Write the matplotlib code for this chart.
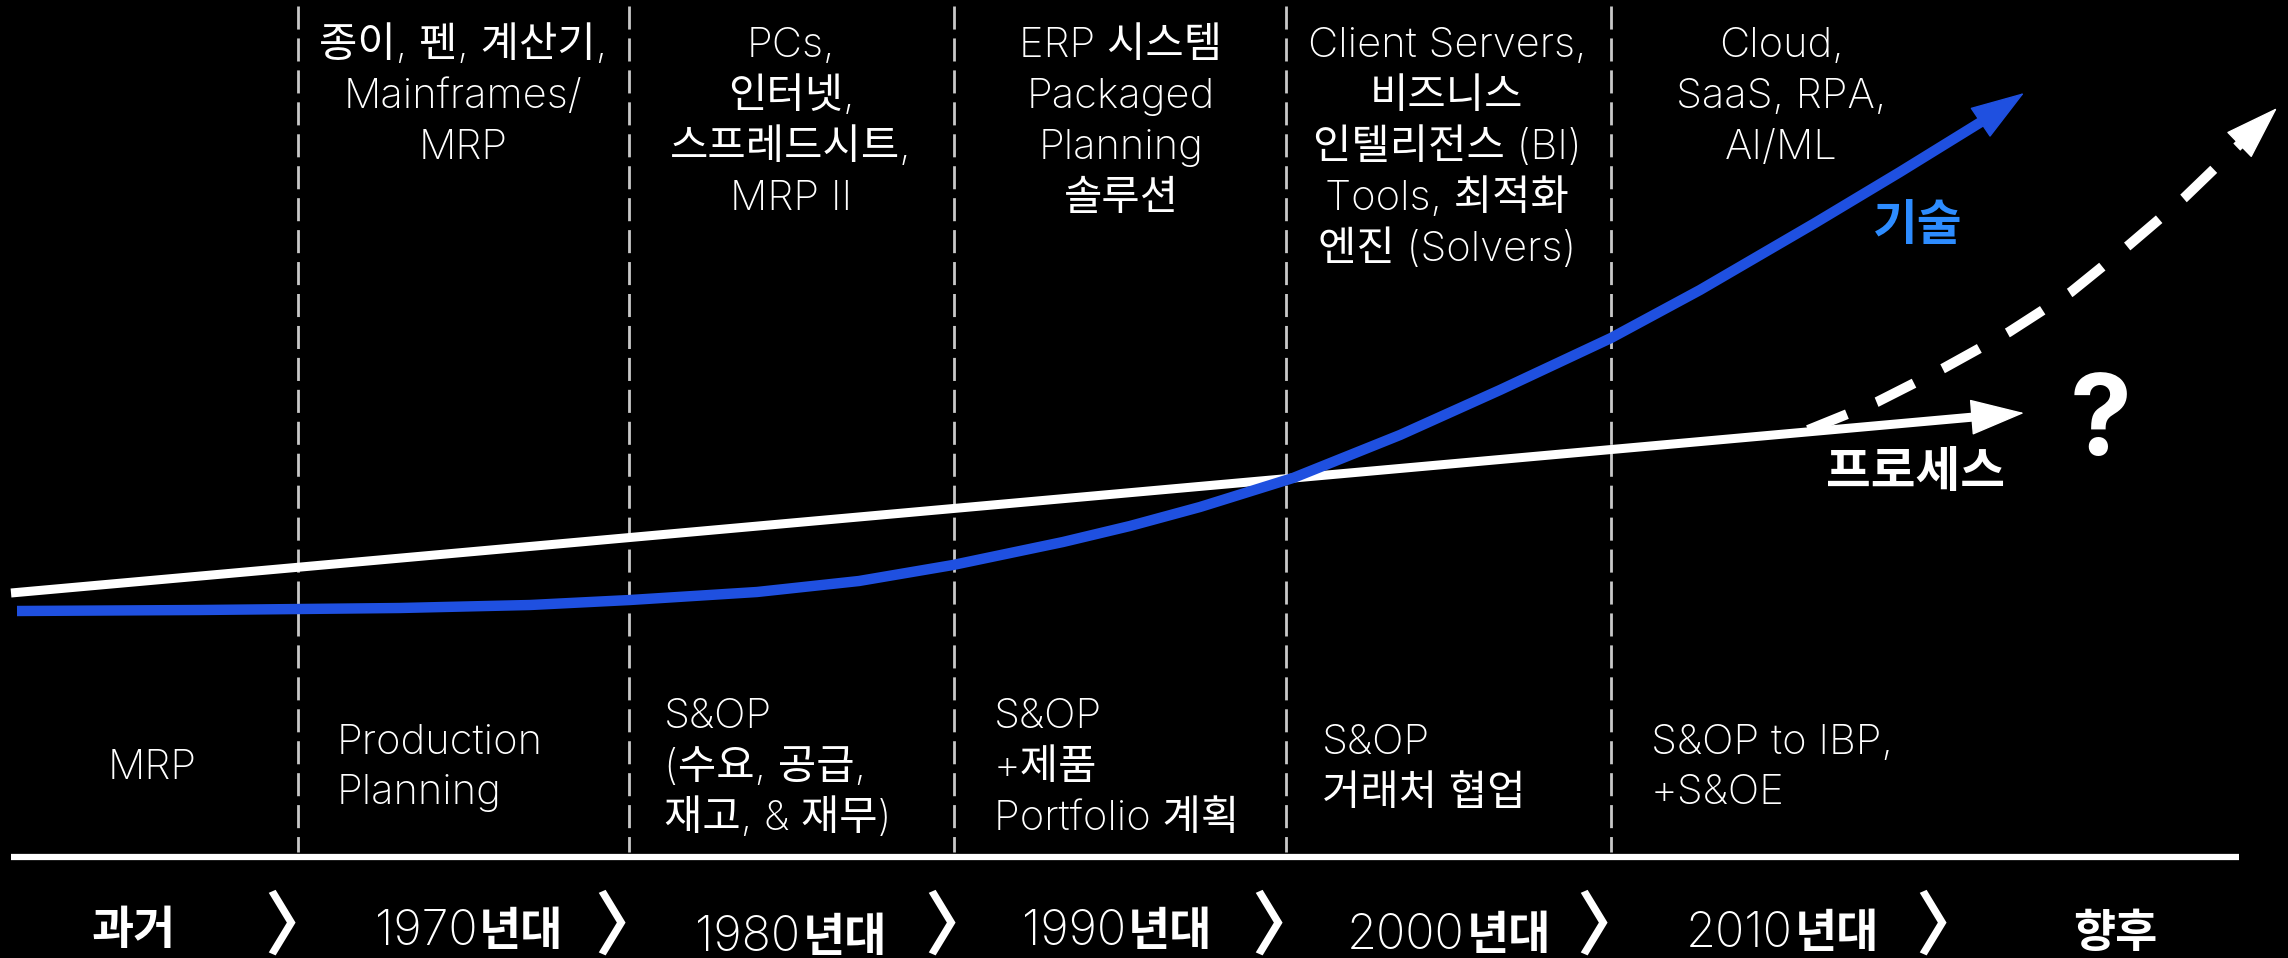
import matplotlib
matplotlib.use("Agg")
import matplotlib.pyplot as plt

# 캔버스 단위 = 픽셀 (2288 x 958)
W, H = 2288, 958

# ====== 데이터 ======
ERA_DIVIDERS = [298, 629, 954, 1286, 1611]

TOP_LABELS = [
    "종이, 펜, 계산기,\nMainframes/\nMRP",
    "PCs,\n인터넷,\n스프레드시트,\nMRP II",
    "ERP 시스템\nPackaged\nPlanning\n솔루션",
    "Client Servers,\n비즈니스\n인텔리전스 (BI)\nTools, 최적화\n엔진 (Solvers)",
    "Cloud,\nSaaS, RPA,\nAI/ML",
]
TOP_X = [463, 791, 1121, 1447, 1781]

BOTTOM_LABELS = [
    "MRP",
    "Production\nPlanning",
    "S&OP\n(수요, 공급,\n재고, & 재무)",
    "S&OP\n+제품\nPortfolio 계획",
    "S&OP\n거래처 협업",
    "S&OP to IBP,\n+S&OE",
]
BOTTOM_X = [152, 337, 664, 994, 1322, 1651]

TIMELINE = ["과거", "1970년대", "1980년대", "1990년대", "2000년대", "2010년대", "향후"]
TIMELINE_X = [134, 468, 790, 1116, 1448, 1781, 2115]
TIMELINE_BASE = [944, 945, 951, 945, 949, 947, 947]
CHEVRON_X = [299, 629, 959, 1286, 1611, 1950]

# 프로세스 (직선)
PROCESS_X = [11, 1974]
PROCESS_Y = [593, 417]
PROCESS_TIP = (2024, 413)

# 기술 (곡선)
TECH_X = [17, 200, 400, 530, 630, 757, 859, 953, 1063, 1130, 1200, 1293,
          1400, 1500, 1611, 1700, 1815, 1900, 1981]
TECH_Y = [611, 610, 608, 605, 600, 592, 581, 565, 542, 526, 507, 478,
          435, 390, 338, 290, 223, 172, 122]
TECH_TIP = (2024, 93)

# 프로세스 향후 (점선)
FUTURE_X = [1808, 1877, 1944, 2009, 2071, 2129, 2184, 2240]
FUTURE_Y = [430, 402, 368, 332, 292, 245, 198, 144]
FUTURE_TIP = (2277, 108)

BLUE = "#1f50e0"
LABEL_BLUE = "#2d8cff"
LIGHT = ["Inter", "Noto Sans CJK KR"]
BOLD = ["Noto Sans CJK KR", "DejaVu Sans"]
LINE_GAP = 51

fig = plt.figure(figsize=(W / 100, H / 100), dpi=100, facecolor="black")
ax = fig.add_axes([0, 0, 1, 1])
ax.set_facecolor("black")
ax.set_xlim(0, W)
ax.set_ylim(H, 0)
ax.axis("off")

# 구분 점선
ax.vlines(ERA_DIVIDERS, 6, 852, colors="#c8c8c8", lw=2,
          linestyles=(0, (8.3, 3.2)))
# 하단 기준선
ax.hlines(857, 11, 2239, colors="white", lw=4.5)

# 곡선들
ax.plot(PROCESS_X, PROCESS_Y, color="white", lw=6.5, solid_capstyle="butt")
ax.plot(TECH_X, TECH_Y, color=BLUE, lw=7.5, solid_capstyle="butt",
        solid_joinstyle="round")
ax.plot(FUTURE_X, FUTURE_Y, color="white", lw=7.2,
        linestyle=(0, (4.2, 3.2)), dash_capstyle="butt")


def head(base, tip, color):
    ax.annotate("", xy=tip, xytext=base,
                arrowprops=dict(arrowstyle="-|>,head_length=36,head_width=12",
                                mutation_scale=1, color=color, lw=1,
                                shrinkA=0, shrinkB=0))


head((PROCESS_X[-1], PROCESS_Y[-1]), PROCESS_TIP, "white")
head((TECH_X[-1], TECH_Y[-1]), TECH_TIP, BLUE)
head((FUTURE_X[-1], FUTURE_Y[-1]), FUTURE_TIP, "white")

# 상단 기술 라벨 (줄 단위로 기준선 맞춤)
for x, s in zip(TOP_X, TOP_LABELS):
    for i, line in enumerate(s.split("\n")):
        ax.text(x, 57 + LINE_GAP * i, line, ha="center", va="baseline",
                color="white", fontsize=30, family=LIGHT, weight="light")

# 하단 프로세스 라벨
for k, (x, s) in enumerate(zip(BOTTOM_X, BOTTOM_LABELS)):
    lines = s.split("\n")
    n = len(lines)
    for i, line in enumerate(lines):
        ax.text(x, 779 + LINE_GAP * (i - (n - 1) / 2), line,
                ha="center" if k == 0 else "left", va="baseline",
                color="white", fontsize=30, family=LIGHT, weight="light")

# 곡선 이름
ax.text(1918, 225, "기술", ha="center", va="center", color=LABEL_BLUE,
        fontsize=35, family=BOLD, weight="bold")
ax.text(1916, 472, "프로세스", ha="center", va="center", color="white",
        fontsize=35, family=BOLD, weight="bold")
ax.text(2101, 455, "?", ha="center", va="baseline", color="white",
        fontsize=80, family=["Inter", "DejaVu Sans"], weight="bold")

# 타임라인
renderer = fig.canvas.get_renderer()
for x, y, s in zip(TIMELINE_X, TIMELINE_BASE, TIMELINE):
    if s[0].isdigit():
        num, word = s[:4], s[4:]
        t1 = ax.text(0, y, num, ha="left", va="baseline", color="white",
                     fontsize=35, family=LIGHT, weight="light")
        t2 = ax.text(0, y, word, ha="left", va="baseline", color="white",
                     fontsize=33, family=BOLD, weight="bold")
        w1 = t1.get_window_extent(renderer).width
        w2 = t2.get_window_extent(renderer).width
        left = x - (w1 + w2) / 2
        t1.set_x(left)
        t2.set_x(left + w1 + 2)
    else:
        ax.text(x, y, s, ha="center", va="baseline", color="white",
                fontsize=33, family=BOLD, weight="bold")

for x in CHEVRON_X:
    ax.text(x, 928, "〉", ha="center", va="center", color="white",
            fontsize=50, family=BOLD, weight="bold")

fig.savefig("out.png", dpi=100, facecolor="black")
